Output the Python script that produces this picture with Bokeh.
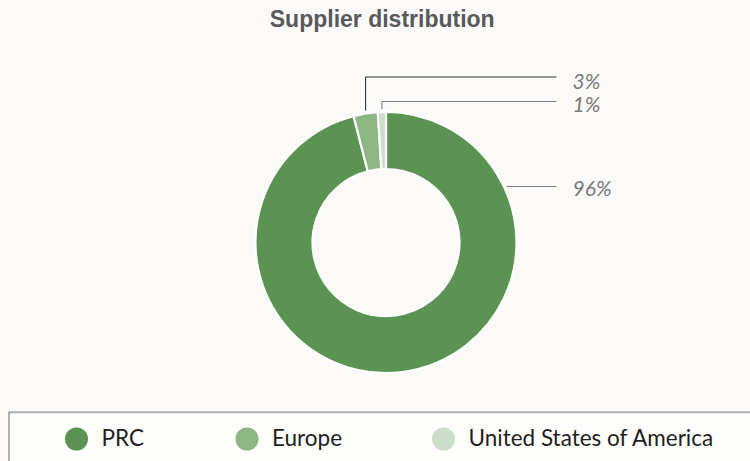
import numpy as np
from bokeh.plotting import figure
from bokeh.models import ColumnDataSource, Range1d
from bokeh.core.properties import value
from bokeh.embed import file_html
from bokeh.resources import INLINE

# ---- data ----
categories = ["PRC", "Europe", "United States of America"]
shares = [96, 3, 1]
labels = ["96%", "3%", "1%"]
colors = ["#5b9353", "#8cb684", "#cddec8"]
title_text = "Supplier distribution"

# ---- layout constants (screen-sized data units) ----
W, H = 750, 461
CX, CY = 385.5, 219.0
R_OUT, R_IN = 130.5, 73.5
BG = "#fbfaf8"

p = figure(width=W, height=H, x_range=Range1d(0, W), y_range=Range1d(0, H),
           output_backend="svg", toolbar_location=None, min_border=0)
p.axis.visible = False
p.grid.visible = False
p.outline_line_color = None
p.background_fill_color = BG
p.border_fill_color = BG

# ---- donut ----
vals = np.array(shares, dtype=float)
frac = vals / vals.sum()
cum = np.concatenate([[0], np.cumsum(frac)])
start = np.pi / 2 - cum[:-1] * 2 * np.pi
end = np.pi / 2 - cum[1:] * 2 * np.pi
mid = (start + end) / 2
src = ColumnDataSource(dict(start=start, end=end, color=colors, cat=categories))
p.annular_wedge(x=CX, y=CY, inner_radius=R_IN, outer_radius=R_OUT,
                start_angle="start", end_angle="end", direction="clock",
                fill_color="color", line_color="white", line_width=2.2, source=src)

# ---- leader lines and labels ----
LINE_END_X = 556
LABEL_X = 572
gap = 3
line_y = {1: 384.5, 2: 360.0}
mid_y = {0: 274.3, 1: 381.5, 2: 358.5}
line_cols = {0: "#7f7f7f", 1: "#333333", 2: "#7f7f7f"}
for i in (1, 2):
    ax = CX + R_OUT * np.cos(mid[i])
    ay = CY + R_OUT * np.sin(mid[i]) + gap
    p.line([ax, ax, LINE_END_X], [ay, line_y[i], line_y[i]],
           line_color=line_cols[i], line_width=1.1)
y0 = 275.0
dx = np.sqrt(R_OUT ** 2 - (y0 - CY) ** 2)
p.line([CX + dx + gap, LINE_END_X], [y0, y0], line_color=line_cols[0], line_width=1.1)

lab_src = ColumnDataSource(dict(x=[LABEL_X] * 3, y=[mid_y[i] for i in range(3)], t=labels))
p.text(x="x", y="y", text="t", source=lab_src, text_font=value("Lato"),
       text_font_style="italic", text_font_size="21px", text_color="#7a7a7a",
       text_baseline="middle", text_align="left")

# ---- title ----
p.text(x=[381.7], y=[442.7], text=[title_text], text_font=value("Liberation Sans"),
       text_font_style="bold", text_font_size="23px", text_color="#58595b",
       text_align="center", text_baseline="middle")

# ---- legend box ----
p.quad(left=[8.5], right=[W + 40], top=[49.3], bottom=[-40], fill_color="#fdfdfc",
       line_color="#b0b0b0", line_width=2)
leg_x = [76.0, 246.5, 443.0]
leg_y = 22.5
p.circle(x=leg_x, y=[leg_y] * 3, radius=11.5, fill_color=colors, line_color=None)
p.text(x=[x + 25 for x in leg_x], y=[24.0] * 3, text=categories, text_font=value("Lato"),
       text_font_size="22.5px", text_color="#231f20", text_baseline="middle",
       text_align="left")

html = file_html(p, INLINE)
html = html.replace("<body>", '<body style="background:%s;">' % BG, 1)
open("out.html", "w").write(html)
